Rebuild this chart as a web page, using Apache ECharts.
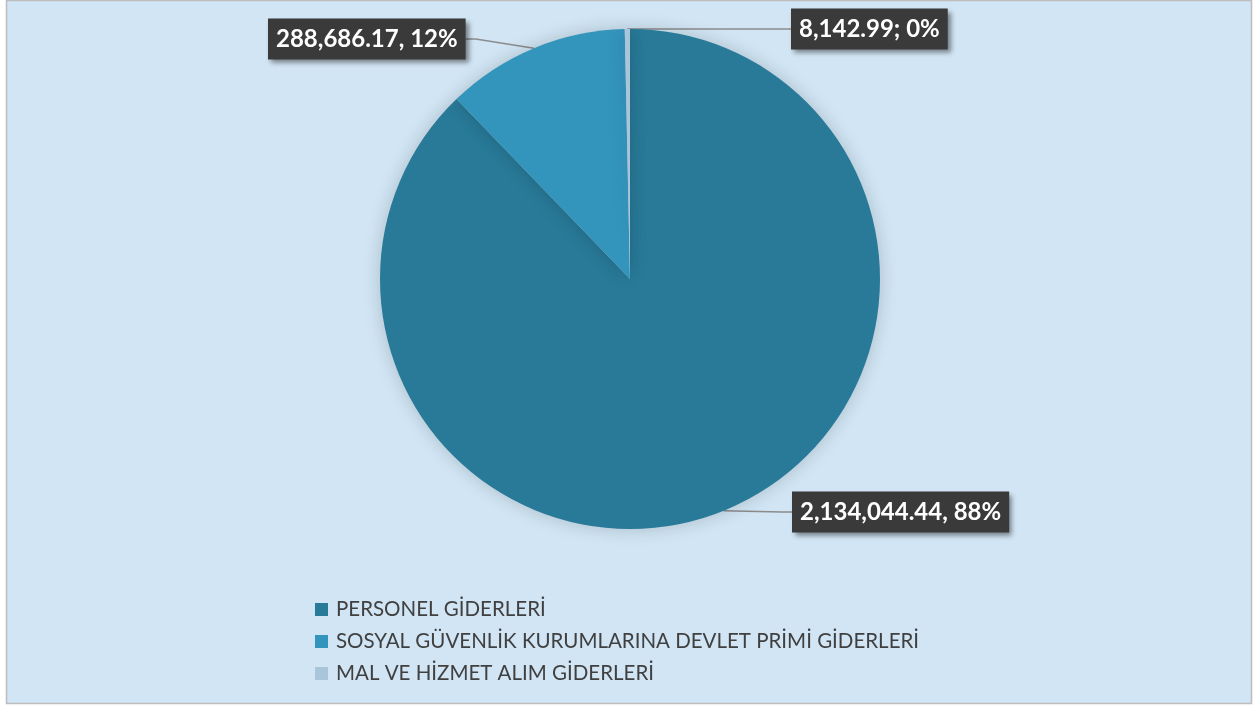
<!DOCTYPE html>
<html>
<head>
<meta charset="utf-8">
<script src="https://cdn.jsdelivr.net/npm/echarts@6/dist/echarts.min.js"></script>
<style>
html,body{margin:0;padding:0;background:#ffffff;}
#chart{width:1258px;height:706px;}
</style>
</head>
<body>
<div id="chart"></div>
<script>
// ---- data ----
const categories = [
  'PERSONEL GİDERLERİ',
  'SOSYAL GÜVENLİK KURUMLARINA DEVLET PRİMİ GİDERLERİ',
  'MAL VE HİZMET ALIM GİDERLERİ'
];
const values = [2134044.44, 288686.17, 8142.99];
const labelTexts = ['2,134,044.44, 88%', '288,686.17, 12%', '8,142.99; 0%'];
const colors = ['#287A98', '#3394BC', '#A8C5D9'];

// ---- layout (label box targets: left edge, vertical centre) ----
const labelTargets = [
  { left: 792, cy: 512 },
  { left: 268, cy: 39 },
  { left: 791, cy: 29 }
];

const chart = echarts.init(document.getElementById('chart'), null, { renderer: 'canvas' });

const seriesData = categories.map((c, i) => ({
  name: c,
  value: values[i],
  itemStyle: { color: colors[i] }
}));

chart.setOption({
  animation: false,
  graphic: [{
    type: 'rect',
    z: -10,
    silent: true,
    shape: { x: 6.5, y: 0.5, width: 1245, height: 703 },
    style: { fill: '#D1E5F4', stroke: '#BDBDBD', lineWidth: 1.5 }
  }],
  legend: {
    orient: 'vertical',
    left: 315,
    top: 599,
    padding: 0,
    itemWidth: 13,
    itemHeight: 13,
    itemGap: 11,
    icon: 'rect',
    data: categories,
    textStyle: {
      fontFamily: 'Lato',
      fontSize: 20.5,
      color: '#404040',
      padding: [0, 0, 0, 3]
    }
  },
  series: [{
    type: 'pie',
    center: [630, 279],
    radius: 250,
    startAngle: 90,
    clockwise: true,
    avoidLabelOverlap: false,
    data: seriesData,
    itemStyle: {
      shadowBlur: 18,
      shadowColor: 'rgba(0,0,0,0.18)'
    },
    label: {
      show: true,
      position: 'outside',
      formatter: p => labelTexts[p.dataIndex],
      color: '#ffffff',
      fontFamily: 'Lato',
      fontWeight: 'bold',
      fontSize: 24,
      lineHeight: 24,
      backgroundColor: '#3A3A3A',
      padding: [9, 8, 8, 8],
      shadowColor: 'rgba(0,0,0,0.45)',
      shadowBlur: 5,
      shadowOffsetX: 3,
      shadowOffsetY: 3
    },
    labelLine: {
      show: true,
      length: 20,
      length2: 10,
      lineStyle: { color: '#8C8C8C', width: 1.5 }
    },
    labelLayout: function (p) {
      const t = labelTargets[p.dataIndex];
      const w = p.labelRect.width;
      const h = p.labelRect.height;
      let x = t.left;
      if (p.align === 'right') x += w;
      else if (p.align === 'center') x += w / 2;
      let y = t.cy;
      if (p.verticalAlign === 'top') y -= h / 2;
      else if (p.verticalAlign === 'bottom') y += h / 2;
      return { x: x, y: y };
    },
    emphasis: { disabled: true }
  }]
});
</script>
</body>
</html>
